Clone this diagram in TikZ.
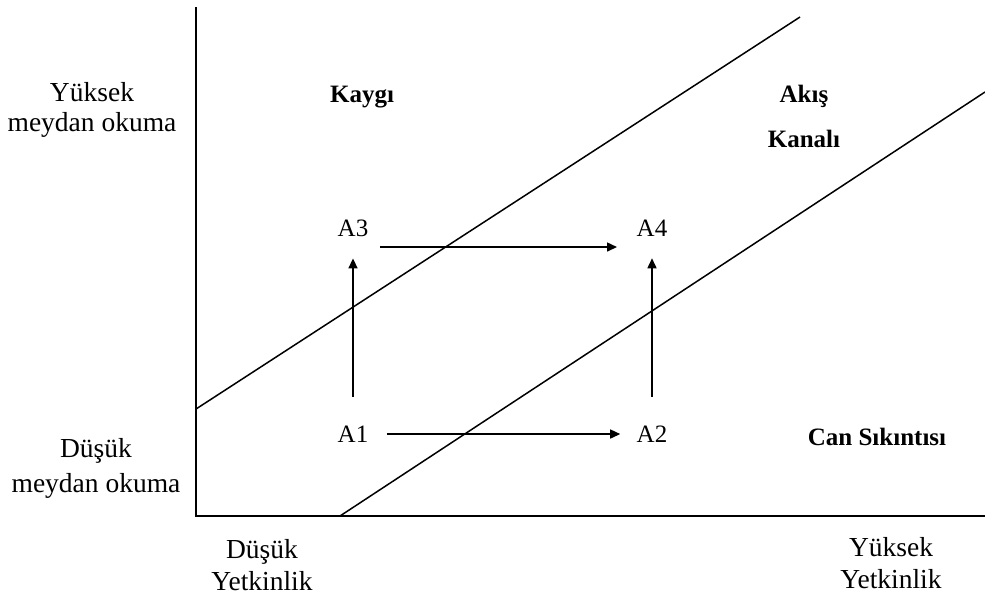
\documentclass[tikz,border=0pt]{standalone}
\usepackage{fontspec}
\setmainfont{Liberation Serif}
\usetikzlibrary{arrows.meta,calc}

\begin{document}
\begin{tikzpicture}[x=0.4pt,y=-0.4pt,>={Triangle[length=4pt,width=3.6pt]},
    lbl/.style={align=center,inner sep=0pt,font=\fontsize{11}{12}\selectfont},
    bld/.style={inner sep=0pt,font=\fontsize{10}{12}\selectfont\bfseries},
    pt/.style={inner sep=0pt,font=\fontsize{10}{12}\selectfont},
    arr/.style={->,line width=0.6pt}]
    \useasboundingbox (0,0) rectangle (985,596);
    % axes
    \draw[line width=0.8pt] (196,7) -- (196,516) -- (985,516);
    % channel borders
    \draw[line width=0.6pt] (196,409) -- (800,17);
    \draw[line width=0.6pt] (340,516) -- (985,92);
    % axis labels
    \node[lbl] (yhigh) at (92,110) {Yüksek\\meydan okuma};
    \node[lbl] (ylow) at (96,468) {Düşük\\[2pt]meydan okuma};
    \node[lbl] (xlow) at (262,564.6) {Düşük\\[0.8pt]Yetkinlik};
    \node[lbl] (xhigh) at (891,562.6) {Yüksek\\[0.8pt]Yetkinlik};
    % regions
    \node[bld,anchor=base] (kaygi) at (362,102) {Kaygı};
    \node[bld,align=center] (akis) at (804,116) {Akış\\[6pt]Kanalı};
    \node[bld,anchor=base] (can) at (877,445.5) {Can Sıkıntısı};
    % states
    \node[pt] (A1) at (353,434) {A1};
    \node[pt] (A2) at (652,434) {A2};
    \node[pt] (A3) at (353,228) {A3};
    \node[pt] (A4) at (652,228) {A4};
    \draw[arr,shorten <=11.4pt,shorten >=8.6pt] (A1) -- (A3);
    \draw[arr,shorten <=11.4pt,shorten >=8.6pt] (A2) -- (A4);
    \draw[arr,shorten <=7.2pt,shorten >=6.4pt] (A1) -- (A2);
    \draw[arr] ($(A3)+(27,19)$) -- ($(A4)+(-35,19)$);
\end{tikzpicture}
\end{document}
